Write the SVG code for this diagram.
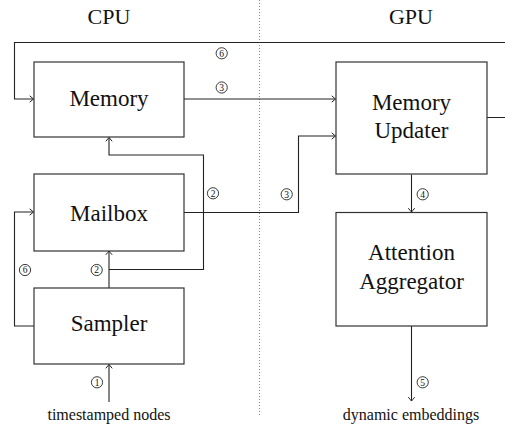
<svg xmlns="http://www.w3.org/2000/svg" width="505" height="432" viewBox="0 0 505 432" font-family="'Liberation Serif', 'DejaVu Serif', serif">
<style>
  .box{fill:#fff;stroke:#333;stroke-width:1.2}
  text{font-family:'Liberation Serif', 'DejaVu Serif', serif}
  .lbl{font-size:23px;fill:#111;text-anchor:middle}
  .hdr{font-size:22px;fill:#111;text-anchor:middle}
  .cap{font-size:16px;fill:#111;text-anchor:middle}
  .wire{fill:none;stroke:#222;stroke-width:1.1}
  .num circle{fill:#fff;stroke:#222;stroke-width:0.9}
  .num text{font-size:9.5px;fill:#111;text-anchor:middle}
</style>
<defs>
  <marker id="arr" markerUnits="userSpaceOnUse" markerWidth="10" markerHeight="10" viewBox="-5 -5 10 10" refX="0" refY="0" orient="auto">
    <path d="M -3.8 -3.2 Q -0.9 -0.7 0 0 Q -0.9 0.7 -3.8 3.2" fill="none" stroke="#222" stroke-width="1"/>
  </marker>
</defs>
<rect width="505" height="432" fill="#fff"/>
<line x1="259.5" y1="0" x2="259.5" y2="417" stroke="#888" stroke-width="1" stroke-dasharray="1 2"/>
<text class="hdr" x="109" y="24">CPU</text>
<text class="hdr" x="411" y="24">GPU</text>

<g id="connectors">
  <path class="wire" d="M 487 117.5 H 515 V 42.5 H 14.5 V 99 H 33.5" marker-end="url(#arr)"/>
  <path class="wire" d="M 184 99 H 335.5" marker-end="url(#arr)"/>
  <path class="wire" d="M 184 212.5 H 298.5 V 136 H 335.5" marker-end="url(#arr)"/>
  <path class="wire" d="M 109 288 V 251" marker-end="url(#arr)"/>
  <path class="wire" d="M 109 269.5 H 203.5 V 155 H 109 V 137.5" marker-end="url(#arr)"/>
  <path class="wire" d="M 34 326 H 14.5 V 212 H 33.5" marker-end="url(#arr)"/>
  <path class="wire" d="M 109 402 V 364.5" marker-end="url(#arr)"/>
  <path class="wire" d="M 411.5 174.5 V 212" marker-end="url(#arr)"/>
  <path class="wire" d="M 411.5 326 V 401" marker-end="url(#arr)"/>
</g>

<g id="memory">
  <rect class="box" x="34" y="62" width="150" height="75"/>
  <text class="lbl" x="109" y="105.5">Memory</text>
</g>
<g id="mailbox">
  <rect class="box" x="34" y="174" width="150" height="77"/>
  <text class="lbl" x="109" y="220.5">Mailbox</text>
</g>
<g id="sampler">
  <rect class="box" x="34" y="288" width="150" height="76"/>
  <text class="lbl" x="109" y="331">Sampler</text>
</g>
<g id="memory-updater">
  <rect class="box" x="336" y="62" width="151" height="112"/>
  <text class="lbl" x="411.5" y="110">Memory</text>
  <text class="lbl" x="411.5" y="138">Updater</text>
</g>
<g id="attention-aggregator">
  <rect class="box" x="336" y="212.5" width="151" height="113.5"/>
  <text class="lbl" x="411.5" y="260">Attention</text>
  <text class="lbl" x="411.5" y="289">Aggregator</text>
</g>

<g id="timestamped-nodes"><text class="cap" x="109" y="420">timestamped nodes</text></g>
<g id="dynamic-embeddings"><text class="cap" x="411" y="419.5">dynamic embeddings</text></g>

<g id="step-labels" class="num">
  <g transform="translate(221.7,53.3)"><circle r="5.6"/><text y="3.3">6</text></g>
  <g transform="translate(221.7,87.5)"><circle r="5.6"/><text y="3.3">3</text></g>
  <g transform="translate(213,193.3)"><circle r="5.6"/><text y="3.3">2</text></g>
  <g transform="translate(286.7,194.3)"><circle r="5.6"/><text y="3.3">3</text></g>
  <g transform="translate(422.7,194.3)"><circle r="5.6"/><text y="3.3">4</text></g>
  <g transform="translate(25,270)"><circle r="5.6"/><text y="3.3">6</text></g>
  <g transform="translate(96.7,270)"><circle r="5.6"/><text y="3.3">2</text></g>
  <g transform="translate(97,382.3)"><circle r="5.6"/><text y="3.3">1</text></g>
  <g transform="translate(422.7,382.3)"><circle r="5.6"/><text y="3.3">5</text></g>
</g>
</svg>
